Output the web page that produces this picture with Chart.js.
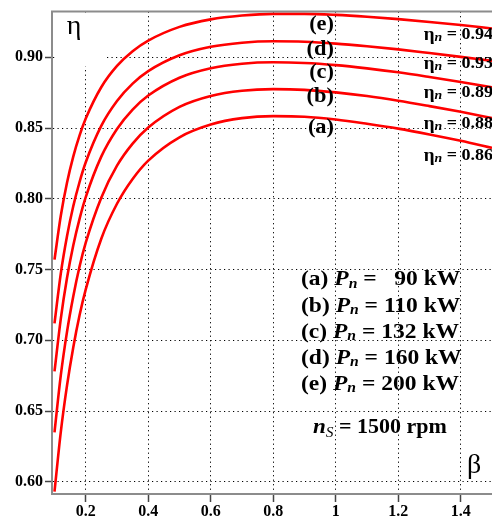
<!DOCTYPE html>
<html>
<head>
<meta charset="utf-8">
<script src="https://cdn.jsdelivr.net/npm/chart.js@4.4.1/dist/chart.umd.min.js"></script>
<style>
  html, body { margin: 0; padding: 0; background: #fff; }
  #wrap { width: 492px; height: 523px; }
</style>
</head>
<body>
<div id="wrap"><canvas id="myChart" width="492" height="523"></canvas></div>
<script>
// load factor beta
const beta = [0.1, 0.12, 0.14, 0.16, 0.18, 0.2, 0.25, 0.3, 0.35, 0.4, 0.5, 0.6, 0.7, 0.8, 0.9, 1.0, 1.1, 1.2, 1.3, 1.4, 1.5];

// efficiency curves
const etaA = [0.593, 0.635, 0.668, 0.695, 0.7175, 0.736, 0.772, 0.7965, 0.814, 0.827, 0.8435, 0.8525, 0.857, 0.8584, 0.858, 0.856, 0.853, 0.8496, 0.8455, 0.841, 0.836];
const etaB = [0.635, 0.675, 0.706, 0.731, 0.752, 0.769, 0.801, 0.8234, 0.839, 0.8504, 0.865, 0.8727, 0.8764, 0.8775, 0.877, 0.8752, 0.8726, 0.8693, 0.8655, 0.8615, 0.8571];
const etaC = [0.678, 0.715, 0.744, 0.767, 0.7857, 0.8012, 0.83, 0.8494, 0.8631, 0.873, 0.8856, 0.8923, 0.8955, 0.8965, 0.896, 0.8945, 0.8922, 0.8894, 0.8861, 0.8826, 0.8788];
const etaD = [0.712, 0.747, 0.7735, 0.7947, 0.8117, 0.8258, 0.8517, 0.8691, 0.8814, 0.8902, 0.9014, 0.9074, 0.9103, 0.9113, 0.911, 0.9097, 0.9078, 0.9056, 0.903, 0.9003, 0.8975];
const etaE = [0.757, 0.7878, 0.8113, 0.8298, 0.8446, 0.8567, 0.879, 0.8939, 0.9043, 0.9118, 0.9215, 0.9268, 0.9295, 0.9307, 0.9307, 0.93, 0.9287, 0.927, 0.925, 0.9228, 0.9204];

const xTicks = [0.2, 0.4, 0.6, 0.8, 1.0, 1.2, 1.4];
const yTicks = [0.60, 0.65, 0.70, 0.75, 0.80, 0.85, 0.90];

const curveLetters = ['(a)', '(b)', '(c)', '(d)', '(e)'];
const ratedEff = ['0.86', '0.88', '0.89', '0.93', '0.94'];
const ratedPower = ['  90', '110', '132', '160', '200'];

const SERIF = '"Liberation Serif", "DejaVu Serif", serif';

function toPoints(ys) {
    return beta.map((b, i) => ({ x: b, y: ys[i] }));
}

// draw a row of text pieces, each with its own font and vertical shift,
// stretched sideways by sx
function drawRuns(ctx, x, y, runs, align, sx) {
    sx = sx || 1;
    let total = 0;
    runs.forEach(r => {
        ctx.font = r.font;
        r.w = ctx.measureText(r.t).width * sx;
        total += r.w;
    });
    let cx = align === 'right' ? x - total : (align === 'center' ? x - total / 2 : x);
    ctx.textAlign = 'left';
    ctx.textBaseline = 'middle';
    runs.forEach(r => {
        ctx.font = r.font;
        ctx.save();
        ctx.translate(cx, y + (r.dy || 0));
        ctx.scale(sx, 1);
        ctx.fillText(r.t, 0, 0);
        ctx.restore();
        cx += r.w;
    });
}

const labelsPlugin = {
    id: 'labels',
    beforeDatasetsDraw(chart) {
        const ctx = chart.ctx;
        const area = chart.chartArea;
        ctx.save();
        // white patch behind the eta axis title
        ctx.fillStyle = '#fff';
        ctx.fillRect(area.left + 5, area.top + 1, 50, 54);
        ctx.restore();
    },
    afterDraw(chart) {
        const ctx = chart.ctx;
        const area = chart.chartArea;
        ctx.save();

        // top frame line
        ctx.strokeStyle = '#8c8c8c';
        ctx.lineWidth = 2;
        ctx.beginPath();
        ctx.moveTo(area.left - 1, area.top);
        ctx.lineTo(chart.width, area.top);
        ctx.stroke();

        ctx.fillStyle = '#000';
        // axis titles
        drawRuns(ctx, 74, 27, [{ t: 'η', font: '28px ' + SERIF }], 'center');
        drawRuns(ctx, 474, 466, [{ t: 'β', font: '28px ' + SERIF }], 'center');

        // curve letters
        const letterY = [128, 97, 73, 50, 25];
        curveLetters.forEach((t, i) => {
            drawRuns(ctx, 334, letterY[i], [{ t: t, font: 'bold 20px ' + SERIF }], 'right', 1.12);
        });

        // rated efficiency notes
        const effY = [156, 124, 93, 64, 35];
        ratedEff.forEach((t, i) => {
            drawRuns(ctx, 493, effY[i], [
                { t: 'η', font: 'bold 18px ' + SERIF },
                { t: 'n', font: 'italic bold 13px ' + SERIF, dy: 3 },
                { t: ' = ' + t, font: 'bold 17px ' + SERIF }
            ], 'right', 1.06);
        });

        // power legend
        ratedPower.forEach((p, i) => {
            drawRuns(ctx, 301, 280 + i * 26.2, [
                { t: curveLetters[i] + ' ', font: 'bold 21px ' + SERIF },
                { t: 'P', font: 'italic bold 21px ' + SERIF },
                { t: 'n', font: 'italic bold 14px ' + SERIF, dy: 4 },
                { t: ' = ' + p + ' kW', font: 'bold 21px ' + SERIF }
            ], 'left', 1.12);
        });
        drawRuns(ctx, 313, 428, [
            { t: 'n', font: 'italic bold 21px ' + SERIF },
            { t: 'S', font: 'italic 14px ' + SERIF, dy: 5 },
            { t: ' = 1500 rpm', font: 'bold 20px ' + SERIF }
        ], 'left', 1.1);

        ctx.restore();
    }
};

const makeSet = (ys) => ({
    data: toPoints(ys),
    borderColor: '#ff0000',
    borderWidth: 2.6,
    pointRadius: 0,
    fill: false,
    cubicInterpolationMode: 'monotone'
});

const gridOpts = (len) => ({
    color: '#000',
    lineWidth: 1,
    tickLength: len,
    tickColor: '#444',
    tickWidth: 1.5,
    tickBorderDash: []
});

document.addEventListener('DOMContentLoaded', () => {
    const ctx = document.getElementById('myChart').getContext('2d');
    new Chart(ctx, {
        type: 'line',
        data: {
            datasets: [makeSet(etaA), makeSet(etaB), makeSet(etaC), makeSet(etaD), makeSet(etaE)]
        },
        options: {
            responsive: false,
            animation: false,
            layout: { padding: { top: 8, right: 0, left: 0, bottom: 0 } },
            plugins: { legend: { display: false }, tooltip: { enabled: false } },
            scales: {
                x: {
                    type: 'linear',
                    min: 0.092,
                    max: 1.5,
                    afterBuildTicks: (scale) => { scale.ticks = xTicks.map(v => ({ value: v })); },
                    afterFit: (scale) => { scale.height = 29; },
                    ticks: {
                        color: '#000',
                        padding: 0,
                        maxRotation: 0,
                        font: { family: SERIF, size: 16, weight: 'bold' },
                        callback: (v) => String(Number(v.toFixed(1)))
                    },
                    grid: gridOpts(8),
                    border: { color: '#8c8c8c', width: 2, dash: [1.2, 3.3] }
                },
                y: {
                    min: 0.5914,
                    max: 0.9323,
                    afterBuildTicks: (scale) => { scale.ticks = yTicks.map(v => ({ value: v })); },
                    afterFit: (scale) => { scale.width = 52; },
                    ticks: {
                        color: '#000',
                        padding: 2,
                        font: { family: SERIF, size: 16, weight: 'bold' },
                        callback: (v) => Number(v).toFixed(2)
                    },
                    grid: gridOpts(7),
                    border: { color: '#8c8c8c', width: 2, dash: [1.2, 3.3] }
                }
            }
        },
        plugins: [labelsPlugin]
    });
});
</script>
</body>
</html>
